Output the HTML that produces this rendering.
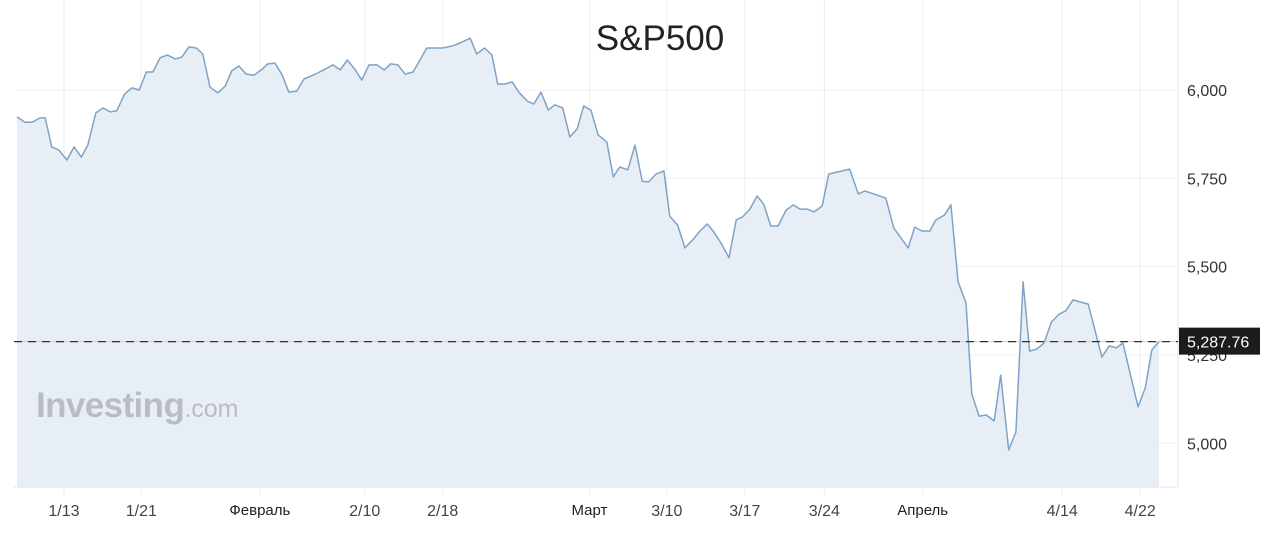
<!DOCTYPE html>
<html><head><meta charset="utf-8"><style>
body{margin:0;background:#fff;width:1280px;height:540px;overflow:hidden;font-family:"Liberation Sans","Noto Sans CJK SC",sans-serif}
svg{display:block}
</style></head><body>
<svg id="chart" width="1280" height="540" xmlns="http://www.w3.org/2000/svg">
<g id="grid"></g>
<path id="area" fill="#e8eef6"/>
<g id="xaxis"></g>
<path id="line" fill="none" stroke="#7ea3c6" stroke-width="1.5" stroke-linejoin="round"/>
<g id="yaxis"></g>
<text x="36" y="417" font-size="35" font-weight="bold" fill="#b9bdc3" letter-spacing="-0.6">Investing<tspan font-size="25" font-weight="normal" letter-spacing="0">.com</tspan></text>
<text x="660" y="50" font-size="35" fill="#222" text-anchor="middle">S&amp;P500</text>
<g id="last"></g>
</svg>
<script>
const t=[0,1.1,2.1,3.2,3.9,4.8,5.8,6.9,7.9,8.9,9.8,10.9,11.9,12.9,13.8,14.9,15.9,16.9,17.9,18.8,19.8,20.8,21.9,22.8,23.8,24.8,25.7,26.7,27.8,28.8,29.7,30.7,31.7,32.8,33.8,34.7,35.7,36.7,37.6,38.7,39.7,40.7,41.6,42.6,43.7,44.7,45.7,46.8,47.7,48.7,49.8,50.8,51.7,52.7,53.7,54.8,56.7,58.9,60.3,61.3,62.7,63.6,64.7,65.7,66.5,67.5,68.5,69.5,70.6,71.5,72.5,73.5,74.4,75.5,76.5,77.5,78.4,79.4,80.4,81.6,82.5,83.4,84.5,85.5,86.5,87.4,88.4,89.5,90.3,91.4,92.4,93.5,94.5,95.5,96.4,97.4,98.5,99.5,100.4,101.4,102.4,103.3,104.3,105.3,106.4,107.4,108.3,109.3,110.3,111.4,112.3,115.2,116.4,117.3,120.2,121.3,123.3,124.2,125.2,126.3,127.1,128.3,129.2,130.2,131.3,132.1,133.1,134.1,135.2,136.1,137.2,138.2,139.2,140.1,141.1,142.1,143.1,144.2,145.1,146.1,147.1,148.2,150.1,151.1,152.1,153.0,155.1,156.1,157.0,158.0];
const price=[5924,5909,5909,5921,5921,5839,5830,5802,5839,5810,5844,5935,5949,5938,5941,5989,6006,6000,6051,6051,6091,6099,6088,6093,6122,6119,6102,6008,5992,6011,6054,6068,6045,6042,6057,6074,6076,6042,5994,5997,6031,6040,6048,6059,6071,6057,6085,6057,6028,6071,6071,6057,6074,6071,6045,6051,6119,6119,6125,6133,6147,6102,6119,6099,6017,6017,6023,5992,5969,5960,5994,5943,5958,5949,5867,5890,5955,5943,5873,5853,5754,5782,5774,5844,5742,5740,5762,5771,5643,5618,5553,5576,5601,5621,5598,5567,5525,5632,5641,5663,5700,5677,5615,5615,5660,5675,5663,5663,5655,5672,5762,5776,5706,5714,5694,5609,5553,5612,5601,5601,5632,5646,5675,5457,5397,5140,5077,5080,5063,5193,4981,5032,5457,5261,5267,5284,5343,5366,5375,5406,5400,5394,5244,5276,5270,5284,5103,5157,5264,5287.76];
const yTicks=[5000,5250,5500,5750,6000];
const yTickLabels=["5,000","5,250","5,500","5,750","6,000"];
const xTickPos=[6.5,17.2,33.6,48.1,58.9,79.2,89.9,100.7,111.7,125.3,144.6,155.4];
const xTickLabels=["1/13","1/21","Февраль","2/10","2/18","Март","3/10","3/17","3/24","Апрель","4/14","4/22"];
const monthLabel=[false,false,true,false,false,true,false,false,false,true,false,false];
const lastPrice=5287.76;

const X=v=>17+v*7.228, Y=p=>90+(6000-p)*0.3533, BOT=487, R=1178;
const NS="http://www.w3.org/2000/svg";
function mk(tag,attrs,parent){const e=document.createElementNS(NS,tag);for(const k in attrs)e.setAttribute(k,attrs[k]);parent.appendChild(e);return e;}
const grid=document.getElementById('grid'), xa=document.getElementById('xaxis'), ya=document.getElementById('yaxis');
yTicks.forEach((v,i)=>{
  const l=mk('line',{x1:17,x2:R,y1:Y(v),y2:Y(v),stroke:'#f0f1f3','stroke-width':1},grid);
  
  
  const tx=mk('text',{x:1187,y:Y(v)+6,'font-size':16,fill:'#333'},ya);
  tx.textContent=yTickLabels[i];
  
  
});
xTickPos.forEach((v,i)=>{
  const gl=mk('line',{x1:X(v),x2:X(v),y1:0,y2:495,stroke:'#eceef1','stroke-width':1},grid);
  
  
  const tx=mk('text',{x:X(v),y:monthLabel[i]?515:516,'font-size':monthLabel[i]?15:16,fill:monthLabel[i]?'#222':'#444','text-anchor':'middle'},xa);
  tx.textContent=xTickLabels[i];
  
  
});
const ax=mk('line',{x1:14,x2:R,y1:BOT,y2:BOT,stroke:'#e3e5e8','stroke-width':1},xa);


const ra=mk('line',{x1:R,x2:R,y1:0,y2:BOT,stroke:'#e3e5e8','stroke-width':1},ya);


let d=t.map((v,i)=>(i?'L':'M')+X(v).toFixed(1)+' '+Y(price[i]).toFixed(1)).join(' ');
document.getElementById('line').setAttribute('d',d);
document.getElementById('area').setAttribute('d',d+` L${X(t[t.length-1]).toFixed(1)} ${BOT} L${X(t[0])} ${BOT} Z`);
const lg=document.getElementById('last'), ly=Y(lastPrice);
const l1=mk('line',{x1:14,x2:R,y1:ly,y2:ly,stroke:'#f2b8b8','stroke-width':1},lg);


const l2=mk('line',{x1:14,x2:R,y1:ly,y2:ly,stroke:'#333','stroke-width':1.3,'stroke-dasharray':'8 6'},lg);


const bx=mk('rect',{x:1179,y:ly-14,width:81,height:27,fill:'#1c1c1c'},lg);


const bt=mk('text',{x:1187,y:ly+6,'font-size':16,fill:'#fff'},lg);
bt.textContent=lastPrice.toLocaleString('en-US',{minimumFractionDigits:2});


</script>
</body></html>
